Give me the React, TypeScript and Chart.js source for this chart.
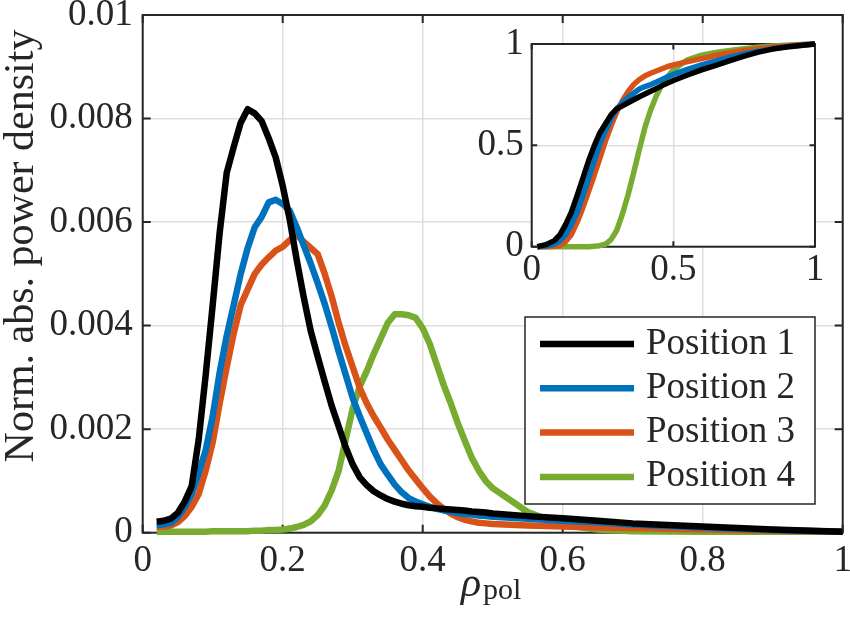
import React, { useEffect, useRef } from 'react';
import { Chart, registerables } from 'chart.js';

Chart.register(...registerables);

// main plot: rho_pol samples
const RHO = [
  0.02, 0.03, 0.04, 0.05, 0.06, 0.07, 0.08, 0.09, 0.10, 0.11,
  0.12, 0.13, 0.14, 0.15, 0.16, 0.17, 0.18, 0.19, 0.20, 0.21,
  0.22, 0.23, 0.24, 0.25, 0.26, 0.27, 0.28, 0.29, 0.30, 0.31,
  0.32, 0.33, 0.34, 0.35, 0.36, 0.37, 0.38, 0.39, 0.40, 0.41,
  0.42, 0.43, 0.44, 0.45, 0.46, 0.47, 0.48, 0.49, 0.50, 0.55,
  0.60, 0.65, 0.70, 0.80, 0.90, 1.00,
];

// norm. abs. power density, in units of 1e-3
const POS1 = [
  0.21, 0.23, 0.27, 0.38, 0.6, 0.9, 1.8, 3.05, 4.4, 5.8,
  6.95, 7.45, 7.92, 8.18, 8.1, 7.95, 7.62, 7.25, 6.7, 6.05,
  5.27, 4.55, 3.9, 3.4, 2.92, 2.45, 2.05, 1.65, 1.32, 1.07,
  0.92, 0.8, 0.72, 0.65, 0.6, 0.56, 0.53, 0.51, 0.5, 0.48,
  0.47, 0.46, 0.45, 0.44, 0.43, 0.41, 0.4, 0.39, 0.37, 0.32,
  0.28, 0.23, 0.18, 0.12, 0.06, 0.02,
];
const POS2 = [
  0.15, 0.16, 0.19, 0.3, 0.5, 0.75, 1.15, 1.6, 2.25, 3.1,
  3.8, 4.4, 5.0, 5.5, 5.9, 6.1, 6.38, 6.43, 6.35, 6.22,
  5.9, 5.55, 5.2, 4.82, 4.42, 3.97, 3.5, 3.05, 2.6, 2.25,
  1.92, 1.6, 1.32, 1.12, 0.93, 0.78, 0.67, 0.6, 0.55, 0.5,
  0.46, 0.43, 0.41, 0.38, 0.36, 0.35, 0.33, 0.32, 0.31, 0.27,
  0.23, 0.2, 0.16, 0.1, 0.05, 0.02,
];
const POS3 = [
  0.12, 0.12, 0.14, 0.2, 0.32, 0.5, 0.75, 1.2, 1.75, 2.5,
  3.2, 3.85, 4.4, 4.7, 5.0, 5.18, 5.32, 5.45, 5.52, 5.65,
  5.75, 5.62, 5.5, 5.38, 5.0, 4.56, 4.05, 3.6, 3.2, 2.8,
  2.5, 2.25, 2.03, 1.8, 1.6, 1.4, 1.2, 1.03, 0.86, 0.7,
  0.57, 0.46, 0.37, 0.3, 0.25, 0.22, 0.19, 0.18, 0.17, 0.14,
  0.12, 0.1, 0.09, 0.06, 0.04, 0.02,
];
const POS4 = [
  0.02, 0.02, 0.02, 0.02, 0.02, 0.02, 0.02, 0.02, 0.03, 0.03,
  0.03, 0.03, 0.03, 0.03, 0.04, 0.04, 0.05, 0.05, 0.06, 0.08,
  0.11, 0.15, 0.22, 0.34, 0.53, 0.82, 1.2, 1.8, 2.4, 2.82,
  3.12, 3.45, 3.75, 4.05, 4.22, 4.22, 4.2, 4.15, 3.95, 3.65,
  3.25, 2.85, 2.5, 2.12, 1.78, 1.45, 1.2, 1.0, 0.86, 0.4,
  0.15, 0.06, 0.03, 0.02, 0.02, 0.02,
];

// inset: cumulative fraction
const CDF_RHO = [
  0.02, 0.05, 0.08, 0.10, 0.12, 0.14, 0.16, 0.18, 0.20, 0.22,
  0.24, 0.26, 0.28, 0.30, 0.32, 0.34, 0.36, 0.38, 0.40, 0.42,
  0.44, 0.46, 0.48, 0.50, 0.55, 0.60, 0.65, 0.70, 0.75, 0.80,
  0.85, 0.90, 0.95, 1.00,
];
const CDF1 = [
  0, 0.01, 0.03, 0.06, 0.11, 0.17, 0.25, 0.335, 0.42, 0.495,
  0.56, 0.605, 0.65, 0.68, 0.695, 0.71, 0.725, 0.74, 0.753, 0.767,
  0.78, 0.795, 0.808, 0.82, 0.847, 0.872, 0.895, 0.918, 0.94, 0.96,
  0.975, 0.985, 0.993, 1.0,
];
const CDF2 = [
  0, 0.003, 0.012, 0.03, 0.06, 0.11, 0.17, 0.25, 0.335, 0.42,
  0.505, 0.57, 0.63, 0.68, 0.71, 0.735, 0.757, 0.778, 0.79, 0.8,
  0.812, 0.825, 0.838, 0.85, 0.875, 0.897, 0.916, 0.935, 0.951, 0.965,
  0.977, 0.987, 0.994, 1.0,
];
const CDF3 = [
  0, 0, 0.002, 0.006, 0.025, 0.06, 0.12, 0.19, 0.27, 0.35,
  0.435, 0.52, 0.595, 0.665, 0.72, 0.765, 0.8, 0.825, 0.843, 0.856,
  0.867, 0.878, 0.889, 0.897, 0.913, 0.928, 0.943, 0.957, 0.968, 0.977,
  0.985, 0.991, 0.996, 1.0,
];
const CDF4 = [
  0, 0, 0, 0, 0, 0, 0, 0, 0, 0.002,
  0.005, 0.012, 0.035, 0.08, 0.16, 0.255, 0.365, 0.48, 0.59, 0.675,
  0.745, 0.8, 0.84, 0.873, 0.922, 0.945, 0.958, 0.968, 0.977, 0.984,
  0.99, 0.994, 0.997, 1.0,
];

const LABELS = ['Position 1', 'Position 2', 'Position 3', 'Position 4'];
const COLORS = ['#000000', '#0072BD', '#D95319', '#77AC30'];

const FONT = '"Liberation Serif", serif';
const INK = '#262626';
const GRID = '#dedede';

const fmt = (v: number | string) => String(Number(Number(v).toFixed(4)));

// MATLAB-style box with inward ticks on all four sides
const boxPlugin = (tickLen: number) => ({
  id: 'box',
  beforeDatasetsDraw(chart: any) {
    const { ctx, chartArea: a, scales } = chart;
    ctx.save();
    ctx.strokeStyle = INK;
    ctx.lineWidth = 2;
    ctx.beginPath();
    scales.x.ticks.forEach((t: any) => {
      const p = scales.x.getPixelForValue(t.value);
      ctx.moveTo(p, a.bottom);
      ctx.lineTo(p, a.bottom - tickLen);
      ctx.moveTo(p, a.top);
      ctx.lineTo(p, a.top + tickLen);
    });
    scales.y.ticks.forEach((t: any) => {
      const p = scales.y.getPixelForValue(t.value);
      ctx.moveTo(a.left, p);
      ctx.lineTo(a.left + tickLen, p);
      ctx.moveTo(a.right, p);
      ctx.lineTo(a.right - tickLen, p);
    });
    ctx.stroke();
    ctx.strokeRect(a.left, a.top, a.right - a.left, a.bottom - a.top);
    ctx.restore();
  },
});

const labelsPlugin = {
  id: 'labels',
  afterDraw(chart: any) {
    const { ctx } = chart;
    ctx.save();
    ctx.fillStyle = INK;
    // y label
    ctx.font = `42px ${FONT}`;
    ctx.textAlign = 'center';
    ctx.textBaseline = 'alphabetic';
    ctx.translate(33, 246);
    ctx.rotate(-Math.PI / 2);
    ctx.fillText('Norm. abs. power density', 0, 0);
    ctx.restore();

    // x label: rho_pol
    ctx.save();
    ctx.fillStyle = INK;
    ctx.textAlign = 'left';
    ctx.textBaseline = 'alphabetic';
    ctx.font = `italic 42px ${FONT}`;
    ctx.fillText('ρ', 461, 596);
    ctx.font = `30px ${FONT}`;
    ctx.fillText('pol', 483, 599);
    ctx.restore();

    // legend
    const bx = 525, by = 317, bw = 290, bh = 187;
    ctx.save();
    ctx.fillStyle = '#ffffff';
    ctx.fillRect(bx, by, bw, bh);
    ctx.strokeStyle = INK;
    ctx.lineWidth = 1.5;
    ctx.strokeRect(bx, by, bw, bh);
    ctx.font = `37px ${FONT}`;
    ctx.textAlign = 'left';
    ctx.textBaseline = 'alphabetic';
    chart.data.datasets.forEach((ds: any, i: number) => {
      const ry = 344 + i * 44.3;
      ctx.strokeStyle = ds.borderColor;
      ctx.lineWidth = 6.5;
      ctx.beginPath();
      ctx.moveTo(540, ry);
      ctx.lineTo(634, ry);
      ctx.stroke();
      ctx.fillStyle = INK;
      ctx.fillText(ds.label, 646, ry + 9.5);
    });
    ctx.restore();
  },
};

const insetBg = {
  id: 'insetBg',
  beforeDraw(chart: any) {
    const { ctx, chartArea: a } = chart;
    ctx.save();
    ctx.fillStyle = '#ffffff';
    ctx.fillRect(a.left, a.top, a.right - a.left, a.bottom - a.top);
    ctx.restore();
  },
};

const makeSets = (xs: number[], series: number[][], scale: number, width: number) =>
  series.map((ys, i) => ({
    label: LABELS[i],
    data: xs.map((x, j) => ({ x, y: ys[j] * scale })),
    borderColor: COLORS[i],
    backgroundColor: COLORS[i],
    borderWidth: width,
    pointRadius: 0,
    tension: 0,
    borderJoinStyle: 'round' as const,
    clip: false as any,
  }));

const App: React.FC = () => {
  const mainRef = useRef<HTMLCanvasElement | null>(null);
  const insetRef = useRef<HTMLCanvasElement | null>(null);

  useEffect(() => {
    if (!mainRef.current || !insetRef.current) return;
    const tickFont = { family: FONT, size: 37 };

    const main = new Chart(mainRef.current, {
      type: 'line',
      data: { datasets: makeSets(RHO, [POS1, POS2, POS3, POS4], 1e-3, 6.5) },
      options: {
        responsive: false,
        animation: false,
        devicePixelRatio: 1,
        layout: { padding: { top: 15, right: 7.3, left: 0, bottom: 0 } },
        plugins: { legend: { display: false }, tooltip: { enabled: false } },
        scales: {
          x: {
            type: 'linear',
            min: 0,
            max: 1,
            ticks: { stepSize: 0.2, color: INK, font: tickFont, padding: 6, maxRotation: 0, callback: fmt },
            grid: { color: GRID, lineWidth: 1.5, drawTicks: false },
            border: { display: false },
            afterFit: (s: any) => {
              s.height = 100.3;
              s.paddingLeft = 0;
              s.paddingRight = 0;
            },
          },
          y: {
            type: 'linear',
            min: 0,
            max: 0.01,
            ticks: { stepSize: 0.002, color: INK, font: tickFont, padding: 10, callback: fmt },
            grid: { color: GRID, lineWidth: 1.5, drawTicks: false },
            border: { display: false },
            afterFit: (s: any) => {
              s.width = 142.7;
              s.paddingTop = 0;
              s.paddingBottom = 0;
            },
          },
        },
      },
      plugins: [boxPlugin(8), labelsPlugin],
    });

    const inset = new Chart(insetRef.current, {
      type: 'line',
      data: { datasets: makeSets(CDF_RHO, [CDF1, CDF2, CDF3, CDF4], 1, 5.5) },
      options: {
        responsive: false,
        animation: false,
        devicePixelRatio: 1,
        layout: { padding: { top: 24, right: 20, left: 0, bottom: 0 } },
        plugins: { legend: { display: false }, tooltip: { enabled: false } },
        scales: {
          x: {
            type: 'linear',
            min: 0,
            max: 1,
            ticks: { stepSize: 0.5, color: INK, font: tickFont, padding: 1, maxRotation: 0, callback: fmt },
            grid: { color: GRID, lineWidth: 1.5, drawTicks: false },
            border: { display: false },
            afterFit: (s: any) => {
              s.height = 63.3;
              s.paddingLeft = 0;
              s.paddingRight = 0;
            },
          },
          y: {
            type: 'linear',
            min: 0,
            max: 1,
            ticks: { stepSize: 0.5, color: INK, font: tickFont, padding: 8, callback: fmt },
            grid: { color: GRID, lineWidth: 1.5, drawTicks: false },
            border: { display: false },
            afterFit: (s: any) => {
              s.width = 61.7;
              s.paddingTop = 0;
              s.paddingBottom = 0;
            },
          },
        },
      },
      plugins: [insetBg, boxPlugin(5.5)],
    });

    return () => {
      main.destroy();
      inset.destroy();
    };
  }, []);

  return (
    <div style={{ position: 'absolute', left: 0, top: 0, width: 850, height: 633, background: '#ffffff' }}>
      <canvas ref={mainRef} width={850} height={633} style={{ position: 'absolute', left: 0, top: 0 }} />
      <canvas ref={insetRef} width={365} height={290} style={{ position: 'absolute', left: 470, top: 20 }} />
    </div>
  );
};

export default App;
